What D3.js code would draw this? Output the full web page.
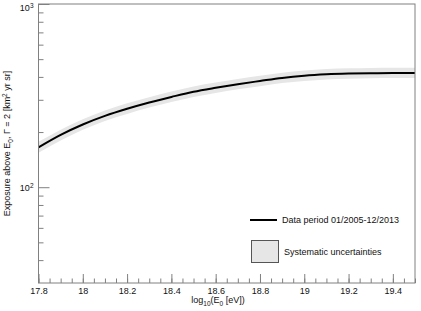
<!DOCTYPE html>
<html>
<head>
<meta charset="utf-8">
<script src="https://cdn.jsdelivr.net/npm/d3@7"></script>
<style>
  body { margin: 0; background: #fff; }
  svg { display: block; font-family: "Liberation Sans", Arial, sans-serif; }
  .axis path { display: none; }
  .axis line { stroke: #808080; }
  .axis text { fill: #111; font-size: 9px; }
</style>
</head>
<body>
<div id="chart"></div>
<script>
// Exposure vs energy
const energy   = [17.8, 17.9, 18.0, 18.1, 18.2, 18.3, 18.4, 18.5, 18.6, 18.7, 18.8, 18.9, 19.0, 19.1, 19.2, 19.3, 19.4, 19.5]
const exposure = [165, 193, 220, 245, 268, 290, 311, 332, 349, 365, 380, 395, 406, 413, 417, 419, 420, 420]
const sysUpper = [177, 206, 235, 262, 287, 310, 333, 355, 373, 390, 406, 422, 434, 442, 446, 448, 449, 449]
const sysLower = [154, 180, 206, 230, 251, 272, 292, 311, 327, 342, 356, 370, 380, 387, 391, 393, 394, 394]

const xMajor = [17.8, 18.0, 18.2, 18.4, 18.6, 18.8, 19.0, 19.2, 19.4]
const xMinor = d3.range(0, 35).map(i => +(17.8 + i * 0.05).toFixed(2))
const yMajor = [100, 1000]
const yMinor = [40, 50, 60, 70, 80, 90, 200, 300, 400, 500, 600, 700, 800, 900]
const legendLabels = ['Data period 01/2005-12/2013', 'Systematic uncertainties']

const W = 421, H = 311
const plot = { left: 38.5, right: 415, top: 4, bottom: 283 }

const svg = d3.select('#chart').append('svg')
    .attr('width', W)
    .attr('height', H)

const x = d3.scaleLinear().domain([17.8, 19.5]).range([plot.left, plot.right])
const y = d3.scaleLog().domain([30, 1000]).range([plot.bottom, plot.top])

const rows = energy.map((e, i) => ({ e: e, v: exposure[i], lo: sysLower[i], hi: sysUpper[i] }))

// Systematic band
let area = d3.area()
    .x(d => x(d.e))
    .y0(d => y(d.lo))
    .y1(d => y(d.hi))
    .curve(d3.curveMonotoneX)

svg.append('path')
  .datum(rows)
  .attr('d', area)
  .attr('fill', '#e6e6e6')

// Main curve
let line = d3.line()
    .x(d => x(d.e))
    .y(d => y(d.v))
    .curve(d3.curveMonotoneX)

svg.append('path')
  .datum(rows)
  .attr('d', line)
  .attr('fill', 'none')
  .attr('stroke', '#000')
  .attr('stroke-width', 2)

// Axes (ticks point inward)
svg.append('g')
  .attr('class', 'axis')
  .attr('transform', 'translate(0,' + plot.bottom + ')')
  .call(d3.axisBottom(x).tickValues(xMinor).tickSize(-4.5).tickFormat(''))

svg.append('g')
  .attr('class', 'axis')
  .attr('transform', 'translate(0,' + plot.bottom + ')')
  .call(d3.axisBottom(x).tickValues(xMajor).tickSize(-9).tickPadding(5)
    .tickFormat(d => d3.format('.1f')(d).replace(/\.0$/, '')))

svg.append('g')
  .attr('class', 'axis')
  .attr('transform', 'translate(' + plot.left + ',0)')
  .call(d3.axisLeft(y).tickValues(yMinor).tickSize(-5).tickFormat(''))

let yAxis = svg.append('g')
  .attr('class', 'axis')
  .attr('transform', 'translate(' + plot.left + ',0)')
  .call(d3.axisLeft(y).tickValues(yMajor).tickSize(-11).tickPadding(5).tickFormat(''))

// 10^n labels with superscripts
yAxis.selectAll('.tick text')
  .attr('dy', '0.32em')
  .each(function(d) {
    let t = d3.select(this)
    t.append('tspan').text('10')
    t.append('tspan').attr('dy', '-0.45em').attr('font-size', '6.5px').text(Math.round(Math.log10(d)))
  })
yAxis.selectAll('.tick').filter(d => d === 1000).select('text').attr('dy', '0.75em')

// Frame
svg.append('rect')
  .attr('x', plot.left)
  .attr('y', plot.top)
  .attr('width', plot.right - plot.left)
  .attr('height', plot.bottom - plot.top)
  .attr('fill', 'none')
  .attr('stroke', '#808080')

// X title
let xt = svg.append('text')
  .attr('x', 218)
  .attr('y', 303)
  .attr('text-anchor', 'middle')
  .attr('font-size', '9px')
  .attr('fill', '#111')
xt.append('tspan').text('log')
xt.append('tspan').attr('dy', '2.5').attr('font-size', '6.5px').text('10')
xt.append('tspan').attr('dy', '-2.5').text('(E')
xt.append('tspan').attr('dy', '2.5').attr('font-size', '6.5px').text('0')
xt.append('tspan').attr('dy', '-2.5').text(' [eV])')

// Y title
let yt = svg.append('text')
  .attr('transform', 'translate(10,' + (plot.top + plot.bottom) / 2 + ') rotate(-90)')
  .attr('text-anchor', 'middle')
  .attr('font-size', '9px')
  .attr('fill', '#111')
yt.append('tspan').text('Exposure above E')
yt.append('tspan').attr('dy', '2.5').attr('font-size', '6.5px').text('0')
yt.append('tspan').attr('dy', '-2.5').text(', \u0393 = 2 [km')
yt.append('tspan').attr('dy', '-3.5').attr('font-size', '6.5px').text('2')
yt.append('tspan').attr('dy', '3.5').text(' yr sr]')

// Legend
let legend = svg.append('g')

legend.append('line')
  .attr('x1', 250).attr('x2', 277)
  .attr('y1', 220).attr('y2', 220)
  .attr('stroke', '#000')
  .attr('stroke-width', 2)

legend.append('rect')
  .attr('x', 251.5).attr('y', 240.5)
  .attr('width', 27).attr('height', 22)
  .attr('fill', '#e6e6e6')
  .attr('stroke', '#555')

legend.selectAll('text.lbl')
  .data(legendLabels)
  .enter().append('text')
  .attr('class', 'lbl')
  .attr('x', (d, i) => i === 0 ? 282 : 284)
  .attr('y', (d, i) => i === 0 ? 220 : 251.5)
  .attr('dy', '0.35em')
  .attr('font-size', '9px')
  .attr('fill', '#111')
  .text(d => d)
</script>
</body>
</html>
